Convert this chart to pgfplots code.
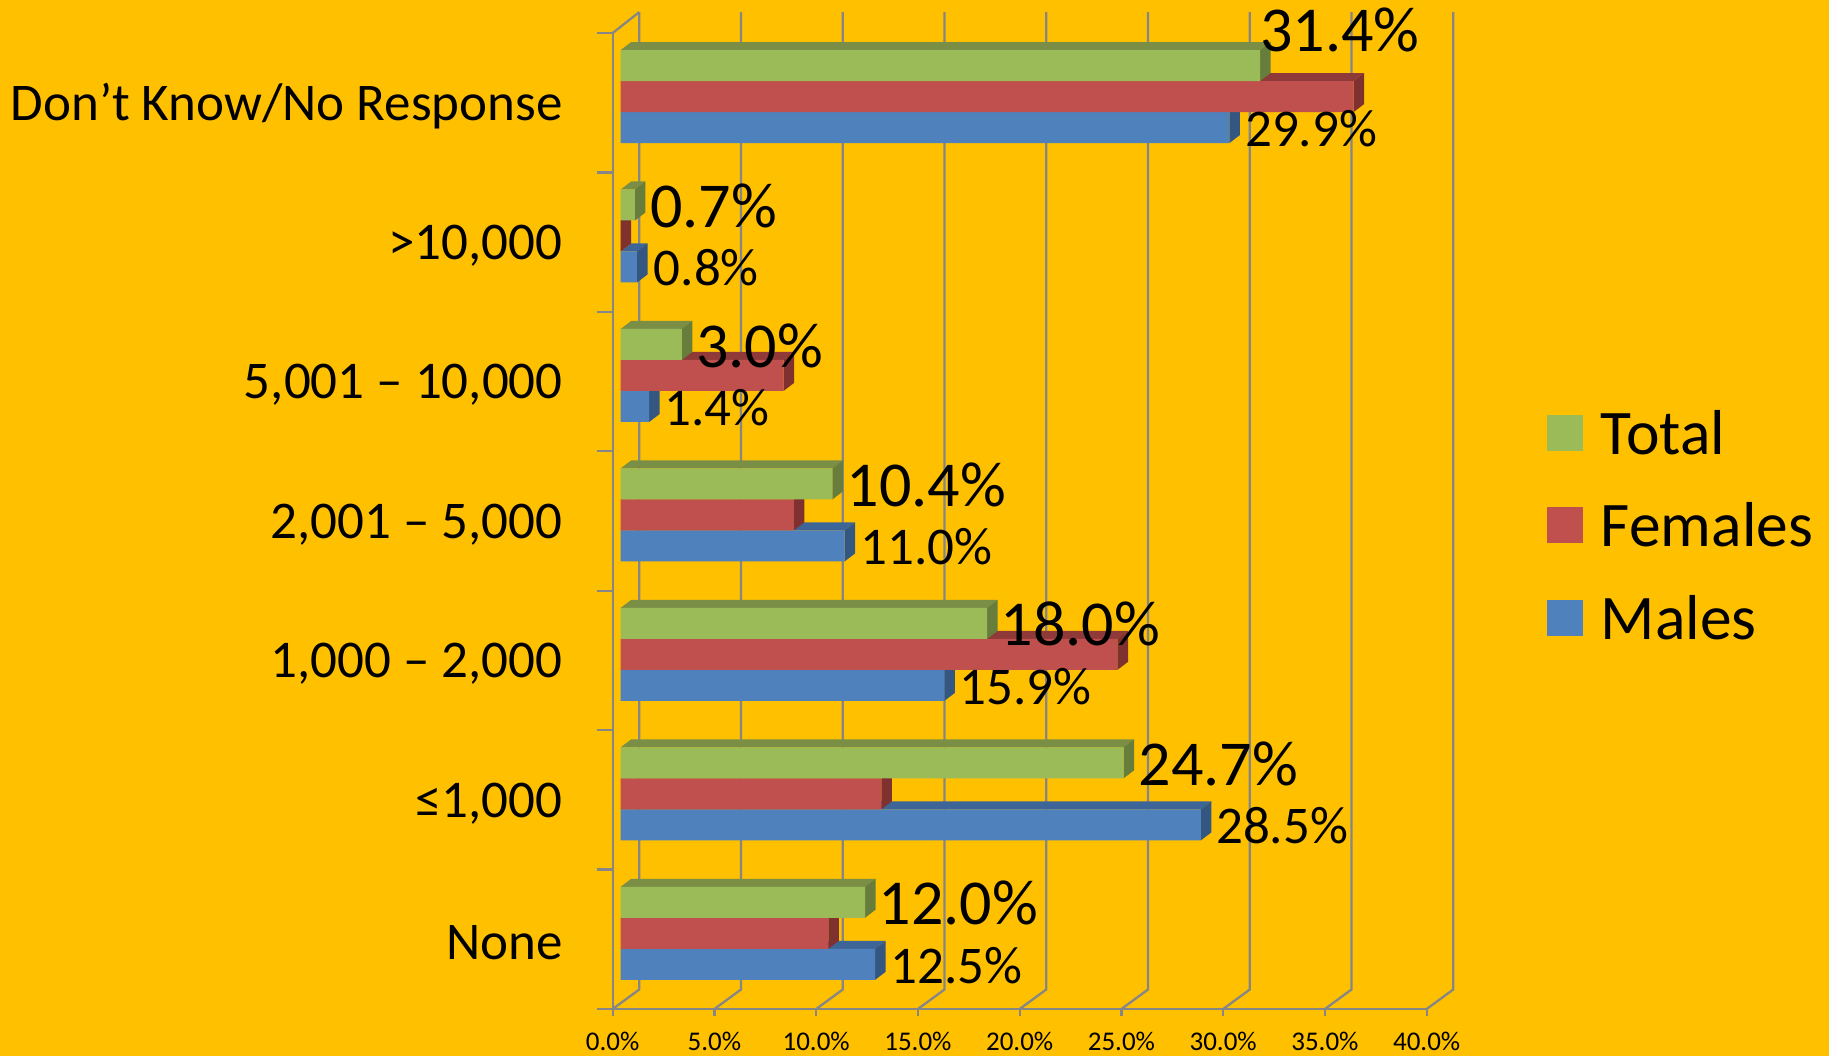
\documentclass[border=0pt]{standalone}
\usepackage{fontspec}
\setmainfont{Carlito}
\usepackage{pgfplots}
\usepackage{pgfplotstable}
\pgfplotsset{compat=1.18}
\definecolor{bgc}{HTML}{FFC000}
\definecolor{gridc}{HTML}{868686}
\definecolor{gf}{HTML}{9BBB59}\definecolor{gt}{HTML}{7A8F45}\definecolor{gs}{HTML}{677D3B}
\definecolor{rf}{HTML}{C0504D}\definecolor{rt}{HTML}{8F3A38}\definecolor{rs}{HTML}{7F3130}
\definecolor{bf}{HTML}{4F81BD}\definecolor{bt}{HTML}{3E6597}\definecolor{bs}{HTML}{345782}
\pgfplotstableread{
cat total females males
0 12.0 10.2 12.5
1 24.7 12.8 28.5
2 18.0 24.4 15.9
3 10.4 8.5 11.0
4 3.0 8.0 1.4
5 0.7 0.0 0.8
6 31.4 36.0 29.9
}\data
\newcommand\labbig{\fontsize{64}{64}\selectfont}
\newcommand\labsmall{\fontsize{53}{53}\selectfont}
% depth faces of one bar: value, category, slot (-1,0,1), top colour, side colour
\newcommand\faces[5]{%
  \pgfmathsetmacro\yb{#2+(#3-0.5)*0.2223}%
  \pgfmathsetmacro\yt{#2+(#3+0.5)*0.2223}%
  \pgfmathsetmacro\ybb{\yb+0.0574}%
  \pgfmathsetmacro\ytt{\yt+0.0574}%
  \pgfmathsetmacro\vv{#1+0.516}%
  \addplot[fill=#4,draw=none,forget plot] coordinates {(0,\yt)(#1,\yt)(\vv,\ytt)(0.516,\ytt)} --cycle;
  \addplot[fill=#5,draw=none,forget plot] coordinates {(#1,\yb)(#1,\yt)(\vv,\ytt)(\vv,\ybb)} --cycle;
}
\begin{document}
\begin{tikzpicture}[x=1pt,y=1pt]
\path[use as bounding box,fill=bgc] (0,0) rectangle (1829,1056);
\begin{axis}[
  at={(612.7pt,47pt)},anchor=south west,scale only axis,
  width=814pt,height=976pt,
  xmin=0,xmax=40,ymin=0,ymax=7,clip=false,
  axis x line*=bottom,axis y line*=left,
  axis line style={-,draw=gridc,line width=2.3pt},
  xtick={0,5,...,40},
  xticklabels={0.0\%,5.0\%,10.0\%,15.0\%,20.0\%,25.0\%,30.0\%,35.0\%,40.0\%},
  xtick style={draw=gridc,line width=2.3pt},
  major tick length=7pt,tick align=outside,
  x tick label style={font=\fontsize{27}{27}\selectfont,inner sep=0pt,yshift=-16pt},
  ytick={0.5,1.5,2.5,3.5,4.5,5.5,6.5},
  yticklabels={None,{≤1,000},{1,000 – 2,000},{2,001 – 5,000},{5,001 – 10,000},{>10,000},{Don’t Know/No Response}},
  ytick style={draw=none},
  y tick label style={font=\fontsize{53}{53}\selectfont,inner sep=0pt,anchor=east,yshift=-3.5pt},
  yticklabel shift=43pt,
  legend cell align=left,
  legend style={at={(1.1475,0.614)},anchor=north west,draw=none,fill=none,inner sep=0pt,
    font=\fontsize{63.5}{63.5}\selectfont,row sep=47pt,
    nodes={inner sep=0pt},column sep=18pt},
  legend image code/.code={\fill[#1] (0pt,-18pt) rectangle (36pt,18pt);},
]
\addlegendimage{fill=gf,draw=none}\addlegendentry{Total}
\addlegendimage{fill=rf,draw=none}\addlegendentry{Females}
\addlegendimage{fill=bf,draw=none}\addlegendentry{Males}
% back wall, floor and left ticks
\pgfplotsforeachungrouped \tka/\tkb in {0/1.307,5/6.307,10/11.307,15/16.307,20/21.307,25/26.307,30/31.307,35/36.307,40/41.307}{
  \addplot[gridc,line width=2.3pt,forget plot] coordinates {(\tka,0)(\tkb,0.14)(\tkb,7.15)};
}
\addplot[gridc,line width=2.3pt,forget plot] coordinates {(0,7)(1.307,7.15)};
\pgfplotsinvokeforeach{0,...,7}{
  \addplot[gridc,line width=2.3pt,forget plot] coordinates {(-0.79,#1)(0,#1)};
}
\end{axis}
\begin{axis}[
  at={(620.7pt,53pt)},anchor=south west,scale only axis,
  width=814.4pt,height=976.2pt,
  xmin=0,xmax=40,ymin=-0.5,ymax=6.5,clip=false,
  hide axis,
]
\pgfplotsforeachungrouped \rw in {0,...,6}{
  \pgfplotstablegetelem{\rw}{males}\of\data \let\val\pgfplotsretval
  \faces{\val}{\rw}{-1}{bt}{bs}
  \pgfplotstablegetelem{\rw}{females}\of\data \let\val\pgfplotsretval
  \faces{\val}{\rw}{0}{rt}{rs}
  \pgfplotstablegetelem{\rw}{total}\of\data \let\val\pgfplotsretval
  \faces{\val}{\rw}{1}{gt}{gs}
}
\addplot[xbar,bar width=31pt,bar shift=-31pt,fill=bf,draw=none] table[x=males,y=cat]{\data};
\addplot[xbar,bar width=31pt,bar shift=0pt,fill=rf,draw=none] table[x=females,y=cat]{\data};
\addplot[xbar,bar width=31pt,bar shift=31pt,fill=gf,draw=none] table[x=total,y=cat]{\data};
% labels
\node[anchor=west,inner sep=0pt,font=\labbig] at (axis cs:12.66,0.215) {12.0\%};
\node[anchor=west,inner sep=0pt,font=\labbig] at (axis cs:25.44,1.215) {24.7\%};
\node[anchor=west,inner sep=0pt,font=\labbig] at (axis cs:18.66,2.215) {18.0\%};
\node[anchor=west,inner sep=0pt,font=\labbig] at (axis cs:11.1,3.215) {10.4\%};
\node[anchor=west,inner sep=0pt,font=\labbig] at (axis cs:3.7,4.215) {3.0\%};
\node[anchor=west,inner sep=0pt,font=\labbig] at (axis cs:1.44,5.215) {0.7\%};
\node[anchor=west,inner sep=0pt,font=\labbig] at (axis cs:31.4,6.475) {31.4\%};
\node[anchor=west,inner sep=0pt,font=\labsmall] at (axis cs:13.26,-0.229) {12.5\%};
\node[anchor=west,inner sep=0pt,font=\labsmall] at (axis cs:29.24,0.771) {28.5\%};
\node[anchor=west,inner sep=0pt,font=\labsmall] at (axis cs:16.64,1.771) {15.9\%};
\node[anchor=west,inner sep=0pt,font=\labsmall] at (axis cs:11.76,2.771) {11.0\%};
\node[anchor=west,inner sep=0pt,font=\labsmall] at (axis cs:2.14,3.771) {1.4\%};
\node[anchor=west,inner sep=0pt,font=\labsmall] at (axis cs:1.62,4.771) {0.8\%};
\node[anchor=west,inner sep=0pt,font=\labsmall] at (axis cs:30.66,5.771) {29.9\%};
\end{axis}
\end{tikzpicture}
\end{document}
